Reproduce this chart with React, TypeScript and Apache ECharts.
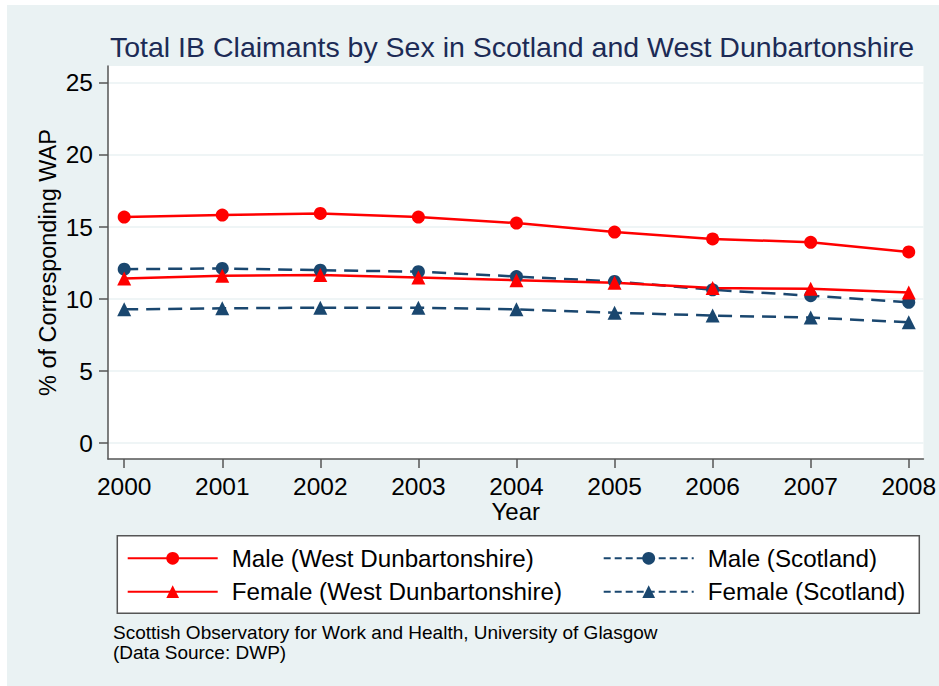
import React, { useEffect, useRef } from "react";
import * as echarts from "echarts";

const years = [2000, 2001, 2002, 2003, 2004, 2005, 2006, 2007, 2008];
const maleWD = [15.69, 15.83, 15.94, 15.69, 15.27, 14.65, 14.17, 13.94, 13.27];
const femaleWD = [11.43, 11.61, 11.66, 11.49, 11.31, 11.13, 10.76, 10.71, 10.46];
const maleScot = [12.07, 12.12, 12.0, 11.9, 11.56, 11.22, 10.64, 10.23, 9.77];
const femaleScot = [9.28, 9.35, 9.4, 9.4, 9.28, 9.05, 8.85, 8.71, 8.38];
const yTicks = [0, 5, 10, 15, 20, 25];
const xTicks = years;

const NAMES = {
  maleWD: "Male (West Dunbartonshire)",
  femaleWD: "Female (West Dunbartonshire)",
  maleScot: "Male (Scotland)",
  femaleScot: "Female (Scotland)",
};

const RED = "#ff0000";
const NAVY = "#1a476f";
const BG = "#eaf2f3";
const FONT = "'Liberation Sans', Arial, sans-serif";

const pairs = (vals: number[]) => years.map((y, i) => [y, vals[i]]);

export default function App() {
  const ref = useRef<HTMLDivElement>(null);
  useEffect(() => {
    if (!ref.current) return;
    const chart = echarts.init(ref.current, null, { renderer: "svg" });
    const mk = (name: string, vals: number[], color: string, symbol: string, dashed: boolean, size: number) => ({
      name,
      type: "line",
      data: pairs(vals),
      symbol,
      symbolSize: size,
      showSymbol: true,
      lineStyle: { color, width: 2.5, type: dashed ? [14, 8] : "solid" },
      itemStyle: { color, borderWidth: 0 },
      emphasis: { disabled: true },
    });
    const legendText = { fontFamily: FONT, fontSize: 24.2, color: "#000", lineHeight: 26, padding: [0, 0, 0, 9] };
    chart.setOption({
      animation: false,
      backgroundColor: "transparent",
      textStyle: { fontFamily: FONT },
      title: {
        text: "Total IB Claimants by Sex in Scotland and West Dunbartonshire",
        left: 110,
        top: 33,
        padding: 0,
        textStyle: { fontFamily: FONT, fontSize: 28.5, fontWeight: "normal", color: "#1c2b56", lineHeight: 28 },
      },
      grid: {
        left: 108,
        top: 66,
        width: 819,
        height: 393,
        show: true,
        backgroundColor: "#ffffff",
        borderWidth: 0,
      },
      xAxis: {
        type: "value",
        min: 1999.835,
        max: 2008.15,
        name: "Year",
        nameLocation: "middle",
        nameGap: 41.5,
        nameMoveOverlap: false,
        nameTextStyle: { fontFamily: FONT, fontSize: 24, color: "#000", lineHeight: 22 },
        axisLine: { show: true, onZero: false, lineStyle: { color: "#555", width: 1.5 } },
        axisTick: { show: true, length: 9, customValues: xTicks, lineStyle: { color: "#555", width: 1.5 } },
        axisLabel: {
          customValues: xTicks,
          margin: 16,
          fontFamily: FONT,
          fontSize: 24.5,
          lineHeight: 22,
          color: "#000",
          formatter: (v: number) => String(v),
        },
        splitLine: { show: false },
      },
      yAxis: {
        type: "value",
        min: -1.11,
        max: 26.18,
        name: "% of Corresponding WAP",
        nameLocation: "middle",
        nameGap: 49,
        nameMoveOverlap: false,
        nameTextStyle: { fontFamily: FONT, fontSize: 23.5, color: "#000", lineHeight: 23 },
        axisLine: { show: true, onZero: false, lineStyle: { color: "#555", width: 1.5 } },
        axisTick: { show: true, length: 9, customValues: yTicks, lineStyle: { color: "#555", width: 1.5 } },
        axisLabel: {
          customValues: yTicks,
          margin: 15,
          fontFamily: FONT,
          fontSize: 24.5,
          lineHeight: 23,
          color: "#000",
          formatter: (v: number) => String(v),
        },
        splitLine: { show: true, lineStyle: { color: BG, width: 1.5 } },
      },
      legend: [
        {
          orient: "vertical",
          left: 126.7,
          top: 545.3,
          padding: 0,
          itemWidth: 90,
          itemHeight: 16,
          itemGap: 7.4,
          data: [NAMES.maleWD, NAMES.femaleWD],
          textStyle: legendText,
          selectedMode: false,
        },
        {
          orient: "vertical",
          left: 602.7,
          top: 545.3,
          padding: 0,
          itemWidth: 90,
          itemHeight: 16,
          itemGap: 7.4,
          data: [NAMES.maleScot, NAMES.femaleScot],
          lineStyle: { type: [7, 4] },
          textStyle: legendText,
          selectedMode: false,
        },
      ],
      graphic: [
        {
          type: "rect",
          z: -10,
          silent: true,
          shape: { x: 7, y: 5, width: 932, height: 681 },
          style: { fill: BG },
        },
        {
          type: "rect",
          z: 1,
          silent: true,
          shape: { x: 117.3, y: 535.7, width: 802, height: 77.6 },
          style: { fill: "#ffffff", stroke: "#555", lineWidth: 1.5 },
        },
        {
          type: "text",
          z: 2,
          silent: true,
          x: 113,
          y: 622,
          style: {
            text: "Scottish Observatory for Work and Health, University of Glasgow\n(Data Source: DWP)",
            font: `19px ${FONT}`,
            lineHeight: 20,
            fill: "#000",
            verticalAlign: "top",
          },
        },
      ],
      series: [
        mk(NAMES.maleScot, maleScot, NAVY, "circle", true, 13),
        mk(NAMES.femaleScot, femaleScot, NAVY, "triangle", true, 14),
        mk(NAMES.maleWD, maleWD, RED, "circle", false, 13),
        mk(NAMES.femaleWD, femaleWD, RED, "triangle", false, 14),
      ],
    });
    return () => chart.dispose();
  }, []);
  return (
    <div
      ref={ref}
      style={{ position: "absolute", left: 0, top: 0, width: 939, height: 686, background: "#ffffff" }}
    />
  );
}
